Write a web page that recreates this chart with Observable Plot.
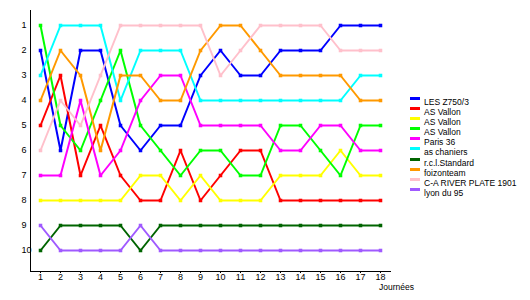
<!DOCTYPE html>
<html><head><meta charset="utf-8">
<script src="https://cdn.jsdelivr.net/npm/d3@7"></script>
<script src="https://cdn.jsdelivr.net/npm/@observablehq/plot@0.6"></script>
<style>
body{margin:0;background:#fff;}
#wrap{position:relative;width:530px;height:300px;font-family:"Liberation Sans",Arial,sans-serif;}
#legend{position:absolute;left:410px;top:97px;font-size:8.5px;color:#000;z-index:2;}
.item{height:10.1px;line-height:10px;position:relative;padding-left:14px;white-space:nowrap;}
.sw{position:absolute;left:0;top:0;width:10px;height:3px;}
#xlabel{position:absolute;left:379px;top:283px;font-size:8.5px;line-height:9px;z-index:2;}
svg{position:absolute;left:0;top:0;}
</style></head>
<body><div id="wrap"><div id="legend"></div><div id="xlabel"></div></div>
<script>
const journees = [1,2,3,4,5,6,7,8,9,10,11,12,13,14,15,16,17,18];
const rankTicks = [1,2,3,4,5,6,7,8,9,10];
const xTitle = "Journées";
const teams = ["LES Z750/3","AS Vallon","AS Vallon","AS Vallon","Paris 36","as chaniers","r.c.l.Standard","foizonteam","C-A RIVER PLATE 1901","lyon du 95"];
const colors = ["#0000ff","#ff0000","#ffff00","#00ff00","#ff00ff","#00ffff","#006400","#ff9900","#ffc0cb","#a05aff"];
const rankLES      = [2,6,2,2,5,6,5,5,3,2,3,3,2,2,2,1,1,1];
const rankVallon1  = [5,3,7,5,7,8,8,6,8,7,6,6,8,8,8,8,8,8];
const rankVallon2  = [8,8,8,8,8,7,7,8,7,8,8,8,7,7,7,6,7,7];
const rankVallon3  = [1,5,6,4,2,5,6,7,6,6,7,7,5,5,6,7,5,5];
const rankParis36  = [7,7,4,7,6,4,3,3,5,5,5,5,6,6,5,5,6,6];
const rankChaniers = [3,1,1,1,4,2,2,2,4,4,4,4,4,4,4,4,3,3];
const rankRCL      = [10,9,9,9,9,10,9,9,9,9,9,9,9,9,9,9,9,9];
const rankFoizon   = [4,2,3,6,3,3,4,4,2,1,1,2,3,3,3,3,4,4];
const rankRiver    = [6,4,5,3,1,1,1,1,1,3,2,1,1,1,1,2,2,2];
const rankLyon     = [9,10,10,10,10,9,10,10,10,10,10,10,10,10,10,10,10,10];
const series = [rankLES,rankVallon1,rankVallon2,rankVallon3,rankParis36,rankChaniers,rankRCL,rankFoizon,rankRiver,rankLyon];

const rows = [];
series.forEach((s, i) => s.forEach((r, j) => rows.push({id: i, color: colors[i], j: journees[j], rank: r})));

const xDom = [0.5, 18.55];
const yDom = [0.4, 10.84];

const chart = Plot.plot({
  width: 530, height: 300,
  marginLeft: 30, marginRight: 139, marginTop: 10, marginBottom: 29,
  style: {fontFamily: "Liberation Sans, Arial, sans-serif", fontSize: "9px", background: "transparent"},
  x: {domain: xDom},
  y: {domain: yDom, reverse: true},
  color: {type: "identity"},
  marks: [
    Plot.ruleX([xDom[0]], {stroke: "#000", strokeWidth: 1}),
    Plot.ruleY([yDom[1]], {stroke: "#000", strokeWidth: 1}),
    Plot.axisX({ticks: journees, tickSize: 2, tickPadding: 0, tickFormat: d => String(d), label: null, fontSize: 9}),
    Plot.axisY({ticks: rankTicks, tickSize: 0, tickPadding: 3, textAnchor: "start", dx: -6, tickFormat: d => String(d), label: null, fontSize: 9}),
    Plot.line(rows, {x: "j", y: "rank", z: "id", stroke: "color", strokeWidth: 2, curve: "linear"}),
    Plot.dot(rows, {x: "j", y: "rank", fill: "color", symbol: "square", r: 2})
  ]
});
document.getElementById("wrap").appendChild(chart);

const leg = document.getElementById("legend");
teams.forEach((t, i) => {
  const d = document.createElement("div"); d.className = "item";
  const s = document.createElement("span"); s.className = "sw"; s.style.background = colors[i];
  d.appendChild(s); d.appendChild(document.createTextNode(t)); leg.appendChild(d);
});
document.getElementById("xlabel").textContent = xTitle;
</script>
</body></html>
